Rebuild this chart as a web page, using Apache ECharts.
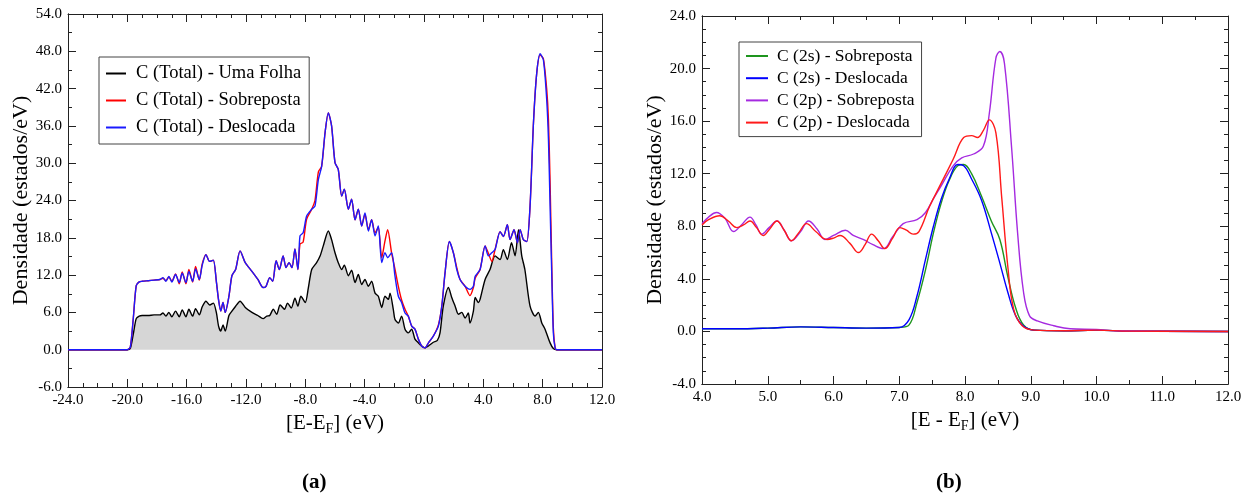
<!DOCTYPE html>
<html>
<head>
<meta charset="utf-8">
<script src="https://cdn.jsdelivr.net/npm/echarts@6/dist/echarts.min.js"></script>
<style>
html,body{margin:0;padding:0;background:#fff;}
#chart{width:1250px;height:497px;}
</style>
</head>
<body>
<div id="chart"></div>
<script>
// ---------- Panel (a): total DOS ----------
const energyFolha = [-24,-20,-19.8,-19.6,-19.4,-19.2,-19.0,-18.6,-18.2,-17.8,-17.6,-17.4,-17.2,-17.0,-16.75,-16.5,-16.3,-16.05,-15.85,-15.6,-15.4,-15.15,-14.95,-14.7,-14.45,-14.2,-14.0,-13.85,-13.7,-13.55,-13.4,-13.15,-12.95,-12.7,-12.4,-12.05,-11.6,-11.2,-10.85,-10.6,-10.4,-10.16,-9.93,-9.7,-9.4,-9.2,-8.95,-8.7,-8.5,-8.3,-8.0,-7.8,-7.57,-7.24,-7.0,-6.79,-6.45,-6.23,-6.0,-5.78,-5.55,-5.37,-5.1,-4.88,-4.65,-4.43,-4.2,-3.98,-3.75,-3.53,-3.3,-3.08,-2.85,-2.63,-2.4,-2.29,-2.07,-1.96,-1.73,-1.51,-1.28,-1.06,-0.83,-0.61,-0.38,-0.16,0.07,0.3,0.63,0.9,1.08,1.3,1.65,1.87,2.1,2.32,2.55,2.77,2.99,3.1,3.33,3.45,3.67,3.78,4.12,4.45,4.79,5.13,5.35,5.62,5.9,6.14,6.37,6.59,6.8,7.15,7.49,7.71,7.94,8.16,8.5,8.72,8.95,12];
const dosUmaFolha = [0,0,0.2,2.5,5.0,5.4,5.5,5.5,5.6,5.6,5.9,5.4,6.0,5.3,6.2,5.3,6.4,5.3,6.5,5.4,6.6,5.6,6.9,7.8,7.2,7.5,6.0,3.8,3.0,4.0,3.0,5.5,6.2,7.0,7.8,6.8,6.0,5.5,5.0,5.4,5.5,6.5,5.7,7.2,6.5,7.5,6.7,8.3,7.0,8.6,7.6,9.9,12.9,14.0,15.1,16.7,19.1,17.7,15.6,14.0,12.9,13.6,11.9,12.8,10.8,12.1,10.5,11.3,10.2,11.0,9.1,8.6,6.8,8.6,8.1,9.1,6.5,4.9,4.3,5.4,3.3,2.7,3.3,1.7,1.1,0.6,0.3,0.6,1.2,1.5,2.7,7.0,10.0,8.4,7.0,5.7,6.0,5.1,5.9,4.3,6.2,8.4,7.6,8.1,11.3,12.9,15.1,14.5,16.1,14.5,17.2,15.1,19.3,15.1,12.9,7.0,5.4,6.0,4.3,3.3,1.1,0.2,0,0];

const energyBi = [-24,-20,-19.8,-19.6,-19.4,-19.2,-19.0,-18.6,-18.2,-17.8,-17.6,-17.4,-17.2,-17.0,-16.75,-16.5,-16.3,-16.05,-15.85,-15.6,-15.4,-15.15,-14.95,-14.7,-14.45,-14.2,-14.0,-13.85,-13.7,-13.55,-13.4,-13.15,-12.95,-12.7,-12.4,-12.05,-11.6,-11.2,-10.85,-10.65,-10.4,-10.2,-9.97,-9.75,-9.5,-9.3,-9.1,-8.9,-8.7,-8.5,-8.36,-8.15,-7.91,-7.57,-7.35,-7.12,-6.9,-6.67,-6.45,-6.23,-6.0,-5.78,-5.55,-5.37,-5.1,-4.88,-4.65,-4.43,-4.2,-3.98,-3.75,-3.53,-3.3,-3.08,-2.85,-2.63,-2.45,-2.18,-1.96,-1.73,-1.51,-1.28,-1.06,-0.83,-0.61,-0.38,-0.16,0.07,0.3,0.63,0.97,1.2,1.42,1.71,1.98,2.21,2.43,2.77,3.1,3.33,3.45,3.78,4.12,4.34,4.57,4.79,5.13,5.35,5.62,5.8,6.07,6.3,6.48,6.7,6.93,7.15,7.38,7.6,7.83,8.05,8.27,8.39,8.5,8.61,8.72,8.84,8.95,12];
const dosDeslocada = [0,0,0.4,5.0,10.3,10.9,11.0,11.1,11.2,11.3,11.6,11.0,11.8,10.9,12.1,10.8,12.3,10.8,12.6,11.0,13.0,11.3,13.6,15.3,14.2,14.4,11.0,8.0,6.2,7.6,6.0,8.6,11.9,12.9,15.9,14.0,12.6,11.3,10.0,10.2,11.6,11.0,14.3,12.9,15.1,13.2,14.0,13.2,16.2,12.9,18.3,18.8,21.5,22.6,23.1,27.4,29.5,34.9,38.1,36.0,30.1,29.0,24.7,25.8,22.6,24.2,20.9,22.6,19.9,22.0,19.1,20.9,18.3,19.9,14.0,15.6,14.8,15.6,11.9,8.6,7.6,5.9,5.4,3.8,3.3,1.7,0.6,0.3,1.1,2.2,3.8,7.0,12.4,17.4,15.6,12.9,11.3,10.2,9.7,10.2,11.8,12.9,16.7,15.1,15.6,16.1,19.0,18.2,20.1,17.7,19.3,17.2,19.3,17.7,17.4,23.1,36.5,44.5,47.6,46.6,40.3,33.8,23.1,12.4,2.7,0.3,0,0];
const dosSobreposta = [0,0,0.4,5.0,10.3,10.9,11.0,11.1,11.2,11.3,11.5,11.1,11.7,11.0,12.2,10.6,12.5,10.6,12.9,10.9,13.4,11.2,13.8,15.3,14.2,14.4,11.0,8.0,6.2,7.6,6.0,8.6,11.9,12.9,15.9,14.0,12.6,11.3,10.0,10.2,11.6,11.0,14.3,12.9,15.1,13.2,14.0,13.2,16.2,12.9,17.0,17.3,21.0,22.6,24.0,28.6,29.5,34.9,38.1,36.0,30.1,29.0,24.7,25.8,22.6,24.2,20.9,22.6,19.9,21.8,19.3,20.9,18.8,19.7,14.8,17.5,19.3,15.5,13.0,10.2,8.0,6.5,5.4,3.8,3.3,1.7,0.6,0.3,1.1,2.2,4.0,7.0,12.4,17.4,15.6,13.2,11.3,10.2,8.7,10.0,11.5,12.9,16.7,15.5,14.2,16.1,19.0,18.2,20.1,17.7,19.3,17.2,19.3,17.7,17.4,23.1,36.5,44.5,47.4,46.8,42.0,37.0,27.0,14.0,3.5,0.3,0,0];

// ---------- Panel (b): orbital-projected DOS ----------
const energy2s = [4.0,4.5,5.0,5.5,6.0,6.5,7.0,7.15,7.27,7.4,7.52,7.64,7.76,7.89,7.98,8.1,8.25,8.4,8.53,8.65,8.77,8.89,9.05,9.5,10.0,10.5,12.0];
const dos2sSobreposta = [0.2,0.2,0.25,0.35,0.3,0.25,0.3,0.5,2.2,4.7,7.5,9.8,11.5,12.6,12.7,12.0,10.3,8.4,7.0,4.2,1.8,0.5,0.1,0.05,0.1,0.02,0];
const dos2sDeslocada = [0.2,0.2,0.25,0.35,0.3,0.25,0.3,0.9,2.7,5.5,8.0,10.1,11.6,12.7,12.6,11.6,10.0,7.5,5.2,3.0,1.2,0.4,0.1,0.05,0.1,0.02,0];

const energy2pSob = [4.0,4.1,4.22,4.35,4.48,4.6,4.73,4.82,4.91,5.02,5.14,5.25,5.36,5.5,5.62,5.75,5.87,6.0,6.18,6.3,6.45,6.6,6.76,6.9,7.06,7.27,7.4,7.52,7.64,7.82,7.95,8.13,8.28,8.37,8.47,8.53,8.6,8.71,8.8,8.89,8.98,9.1,9.35,9.6,10.0,10.3,12.0];
const dos2pSobreposta = [8.2,8.7,9.05,8.6,7.6,8.1,8.7,8.1,7.4,7.9,8.4,7.7,6.9,7.6,8.4,7.8,7.0,7.3,7.7,7.3,7.0,6.6,6.3,7.2,8.2,8.5,9.05,10.1,11.1,12.6,13.2,13.5,14.1,16.6,20.8,21.3,20.4,13.9,7.5,3.0,1.2,0.8,0.43,0.2,0.15,0.05,0];

const energy2pDesl = [4.0,4.1,4.27,4.4,4.53,4.63,4.73,4.83,4.93,5.03,5.14,5.25,5.36,5.47,5.59,5.73,5.9,6.0,6.1,6.25,6.38,6.48,6.58,6.68,6.78,6.9,7.01,7.11,7.21,7.3,7.46,7.64,7.82,7.98,8.1,8.19,8.28,8.37,8.47,8.56,8.65,8.74,8.87,9.05,9.5,10.0,10.5,12.0];
const dos2pDeslocada = [8.1,8.5,8.8,8.4,7.9,8.1,8.4,7.9,7.3,7.8,8.4,7.7,6.9,7.5,8.2,7.6,7.0,7.1,7.3,6.7,6.0,6.6,7.4,6.9,6.3,7.1,7.9,7.7,7.4,7.6,9.5,11.3,13.1,14.75,14.9,14.75,15.3,16.1,15.1,10.1,5.0,1.7,0.43,0.1,0.05,0.1,0.02,0];

const namesA = ['C (Total) - Uma Folha','C (Total) - Sobreposta','C (Total) - Deslocada'];
const namesB = ['C (2s) - Sobreposta','C (2s) - Deslocada','C (2p) - Sobreposta','C (2p) - Deslocada'];
const panelLabels = ['(a)','(b)'];

const pair = (xs, ys) => xs.map((x, i) => [x, ys[i]]);
const FONT = "'Liberation Serif','Times New Roman',serif";
const AX = '#222';

// axis carrying the frame line, the tick labels and the title
function labelAx(grid, pos, min, max, interval, name) {
  const isX = pos === 'bottom';
  return {
    type: 'value', gridIndex: grid, position: pos, min, max, interval,
    axisLine: {show: true, onZero: false, lineStyle: {color: AX}},
    axisTick: {show: false}, minorTick: {show: false}, splitLine: {show: false},
    axisLabel: {show: true, margin: 6, color: '#000', fontFamily: FONT, fontSize: 15,
      formatter: v => v.toFixed(1)},
    name, nameLocation: 'middle', nameGap: isX ? 18 : 36,
    nameTextStyle: isX ? {color: '#000', fontFamily: FONT, fontSize: 21,
      rich: {sub: {fontFamily: FONT, fontSize: 14, color: '#000', padding: [12, 0, 0, 0]}}}
      : {color: '#000', fontFamily: FONT, fontSize: 22}
  };
}
// axis carrying only the inward ticks; it sits on the zero of a hidden helper axis
// whose zero lies exactly on the frame edge
function tickAx(grid, pos, min, max, interval, minorSplit, helperIndex) {
  return {
    type: 'value', gridIndex: grid, position: pos, min, max, interval,
    axisLine: {show: true, onZero: true, onZeroAxisIndex: helperIndex, lineStyle: {color: AX}},
    axisTick: {show: true, inside: true, length: 8, lineStyle: {color: AX, width: 1}},
    minorTick: {show: true, splitNumber: minorSplit, length: 4, lineStyle: {color: AX, width: 1}},
    splitLine: {show: false},
    axisLabel: {show: false}
  };
}
function helperAx(grid, min, max) {
  return {type: 'value', gridIndex: grid, show: false, min, max,
    axisLine: {onZero: false}, splitLine: {show: false}};
}

function line(name, xi, yi, data, color, extra) {
  return Object.assign({
    name, type: 'line', xAxisIndex: xi, yAxisIndex: yi, data,
    symbol: 'none', showSymbol: false, smooth: 0.25,
    color, lineStyle: {color, width: 1.4}, itemStyle: {color}
  }, extra || {});
}

const chart = echarts.init(document.getElementById('chart'));
chart.setOption({
  animation: false,
  grid: [
    {left: 68, top: 14, width: 534, height: 373},
    {left: 702, top: 16, width: 526, height: 368}
  ],
  xAxis: [
    labelAx(0, 'bottom', -24, 12, 4, '[E-E{sub|F}] (eV)'),
    tickAx(0, 'bottom', -24, 12, 4, 4, 6),
    tickAx(0, 'top', -24, 12, 4, 4, 7),
    labelAx(1, 'bottom', 4, 12, 1, '[E - E{sub|F}] (eV)'),
    tickAx(1, 'bottom', 4, 12, 1, 2, 8),
    tickAx(1, 'top', 4, 12, 1, 2, 9),
    helperAx(0, 0, 1),
    helperAx(0, -1, 0),
    helperAx(1, 0, 1),
    helperAx(1, -1, 0)
  ],
  yAxis: [
    labelAx(0, 'left', -6, 54, 6, 'Densidade (estados/eV)'),
    tickAx(0, 'left', -6, 54, 6, 2, 6),
    tickAx(0, 'right', -6, 54, 6, 2, 7),
    labelAx(1, 'left', -4, 24, 4, 'Densidade (estados/eV)'),
    tickAx(1, 'left', -4, 24, 4, 4, 8),
    tickAx(1, 'right', -4, 24, 4, 4, 9),
    helperAx(0, 0, 1),
    helperAx(0, -1, 0),
    helperAx(1, 0, 1),
    helperAx(1, -1, 0)
  ],
  legend: [
    {data: namesA, orient: 'vertical', left: 99, top: 57, selectedMode: false,
     padding: [7, 8, 7, 7], itemWidth: 20, itemHeight: 2, itemGap: 8, icon: 'rect',
     borderColor: '#444', borderWidth: 1, backgroundColor: '#fff',
     textStyle: {fontFamily: FONT, fontSize: 18.5, lineHeight: 18.5, color: '#000', padding: [0, 0, 0, 5]}},
    {data: namesB, orient: 'vertical', left: 739, top: 42, selectedMode: false,
     padding: [5, 7, 5, 7], itemWidth: 22, itemHeight: 2, itemGap: 4.2, icon: 'rect',
     borderColor: '#444', borderWidth: 1, backgroundColor: '#fff',
     textStyle: {fontFamily: FONT, fontSize: 17.5, lineHeight: 17.5, color: '#000', padding: [0, 0, 0, 4]}}
  ],
  series: [
    line(namesA[0], 0, 0, pair(energyFolha, dosUmaFolha), '#000000',
      {areaStyle: {color: '#d6d6d6', opacity: 1}}),
    line(namesA[1], 0, 0, pair(energyBi, dosSobreposta), '#ff0000'),
    line(namesA[2], 0, 0, pair(energyBi, dosDeslocada), '#1a1aff'),
    line(namesB[0], 3, 3, pair(energy2s, dos2sSobreposta), '#1e951e', {smooth: 0.4}),
    line(namesB[1], 3, 3, pair(energy2s, dos2sDeslocada), '#0000ff', {smooth: 0.4}),
    line(namesB[2], 3, 3, pair(energy2pSob, dos2pSobreposta), '#a52ae0', {smooth: 0.4}),
    line(namesB[3], 3, 3, pair(energy2pDesl, dos2pDeslocada), '#ff1a1a', {smooth: 0.4})
  ],
  graphic: [
    {type: 'text', left: 302, top: 472, style: {text: panelLabels[0], fontFamily: FONT, fontSize: 21, fontWeight: 'bold', fill: '#000'}},
    {type: 'text', left: 936, top: 472, style: {text: panelLabels[1], fontFamily: FONT, fontSize: 21, fontWeight: 'bold', fill: '#000'}}
  ]
});
</script>
</body>
</html>
